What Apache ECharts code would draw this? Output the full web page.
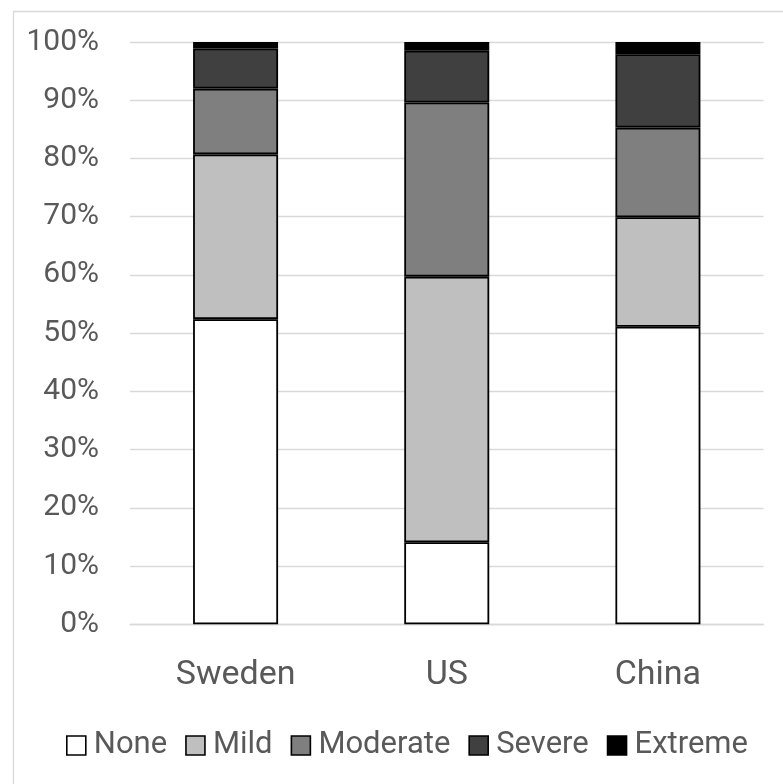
<!DOCTYPE html>
<html>
<head>
<meta charset="utf-8">
<style>
  html, body { margin: 0; padding: 0; background: #ffffff; }
  #chart { width: 783px; height: 784px; }
</style>
<script src="https://cdn.jsdelivr.net/npm/echarts@6/dist/echarts.min.js"></script>
</head>
<body>
<div id="chart"></div>
<script>
// Countries on the category axis
const categories = ['Sweden', 'US', 'China'];

// Share of respondents per severity level (percent, each column sums to 100)
const noneValues     = [52.4, 14.1, 51.1];
const mildValues     = [28.3, 45.6, 18.8];
const moderateValues = [11.3, 29.9, 15.4];
const severeValues   = [6.9, 8.9, 12.6];
const extremeValues  = [1.1, 1.5, 2.1];

const seriesNames  = ['None', 'Mild', 'Moderate', 'Severe', 'Extreme'];
const seriesValues = [noneValues, mildValues, moderateValues, severeValues, extremeValues];
const seriesColors = ['#ffffff', '#bfbfbf', '#7f7f7f', '#404040', '#000000'];

// Value axis ticks
const yMin = 0, yMax = 100, yStep = 10;

const FONT = 'Roboto, "Liberation Sans", sans-serif';
const TEXT_COLOR = '#595959';

const chart = echarts.init(document.getElementById('chart'), null, { renderer: 'canvas' });

chart.setOption({
  animation: false,
  backgroundColor: '#ffffff',
  // chart-area frame
  graphic: [{
    type: 'rect',
    left: 11, top: 9,
    shape: { width: 820, height: 820 },
    style: { fill: 'none', stroke: '#d9d9d9', lineWidth: 1.3 },
    silent: true
  }],
  grid: {
    left: 130, right: 19.5, top: 42, bottom: 159.7,
    containLabel: false
  },
  legend: {
    data: seriesNames,
    left: 66,
    top: 730,
    padding: 0,
    icon: 'rect',
    itemWidth: 19,
    itemHeight: 19,
    itemGap: 18,
    itemStyle: { borderColor: '#000000', borderWidth: 1.6 },
    textStyle: {
      fontFamily: FONT, fontSize: 31, color: TEXT_COLOR,
      padding: [0, 0, 0, 3]
    }
  },
  xAxis: {
    type: 'category',
    data: categories,
    axisLine: { show: true, lineStyle: { color: '#d9d9d9', width: 1.3 } },
    axisTick: { show: false },
    axisLabel: {
      margin: 34,
      fontFamily: FONT, fontSize: 34, color: TEXT_COLOR
    }
  },
  yAxis: {
    type: 'value',
    min: yMin, max: yMax, interval: yStep,
    axisLine: { show: false },
    axisTick: { show: false },
    splitLine: { lineStyle: { color: '#d9d9d9', width: 1.3 } },
    axisLabel: {
      margin: 31,
      formatter: '{value}%',
      fontFamily: FONT, fontSize: 30, color: TEXT_COLOR
    }
  },
  series: seriesNames.map((name, i) => ({
    name: name,
    type: 'bar',
    stack: 'total',
    barWidth: 85,
    data: seriesValues[i],
    itemStyle: {
      color: seriesColors[i],
      borderColor: '#000000',
      borderWidth: 1.8
    }
  }))
});
</script>
</body>
</html>
